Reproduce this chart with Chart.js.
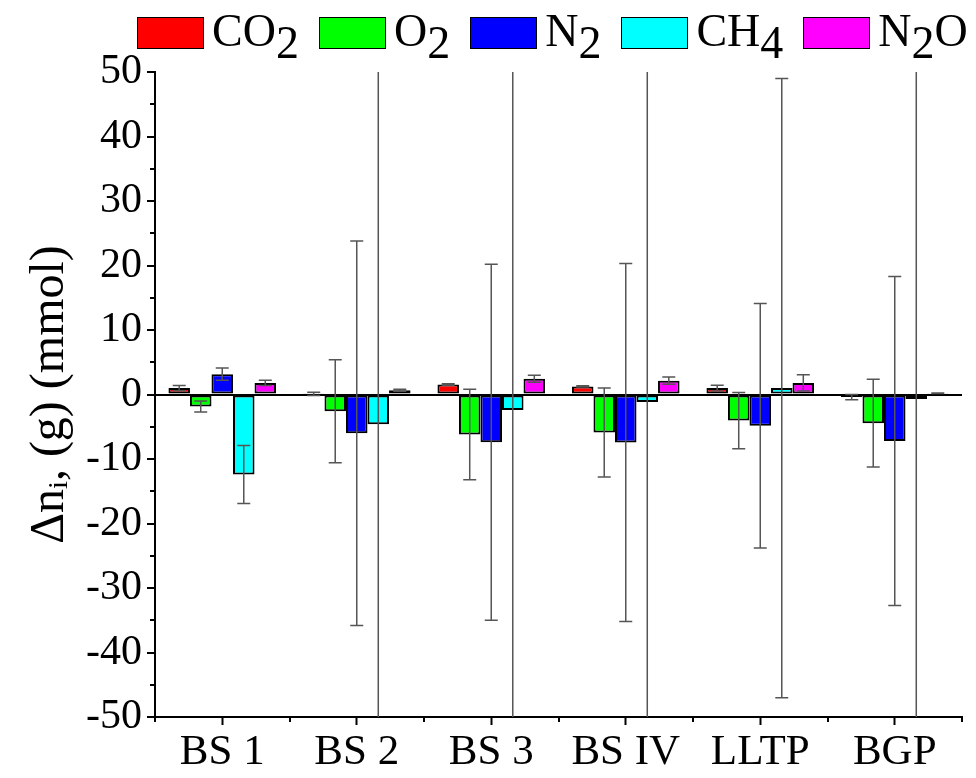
<!DOCTYPE html>
<html>
<head>
<meta charset="utf-8">
<script src="https://cdn.jsdelivr.net/npm/chart.js@4.4.0/dist/chart.umd.min.js"></script>
<style>
html,body{margin:0;padding:0;background:#fff;}
#wrap{position:relative;width:976px;height:778px;}
#legend{position:absolute;left:137px;top:8px;display:flex;align-items:flex-start;font-family:"Liberation Serif","Times New Roman",serif;font-size:46px;color:#000;line-height:1;white-space:nowrap;}
.item{display:flex;align-items:flex-start;margin-right:20px;}
.box{width:65px;height:30px;border:1.5px solid #000;margin-top:9px;margin-right:8px;}
.sub{position:relative;top:0.25em;}
</style>
</head>
<body>
<div id="wrap">
<canvas id="c" width="976" height="778"></canvas>
<div id="legend"></div>
</div>
<script>
// ---- data ----
const categories = ["BS 1", "BS 2", "BS 3", "BS IV", "LLTP", "BGP"];
const seriesNames = ["CO2", "O2", "N2", "CH4", "N2O"];

const co2    = [1.0, 0.1, 1.55, 1.25, 1.0, -0.4];
const co2Err = [0.4, 0.25, 0.1, 0.1, 0.45, 0.4];
const o2     = [-1.85, -2.6, -6.2, -5.9, -4.05, -4.45];
const o2Err  = [0.85, 8.0, 7.0, 6.9, 4.35, 6.8];
const n2     = [3.15, -6.0, -7.4, -7.45, -4.85, -7.2];
const n2Err  = [0.95, 29.8, 27.6, 27.75, 18.95, 25.5];
const ch4    = [-12.4, -4.6, -2.4, -1.15, 1.0, -0.7];
const ch4Err = [4.5, 75, 70, 72, 48.0, 68];
const n2o    = [1.8, 0.65, 2.45, 2.15, 1.8, 0.2];
const n2oErr = [0.4, 0.15, 0.55, 0.55, 1.25, 0.05];

const yMin = -50, yMax = 50, yStep = 10, yMinorStep = 5;
const yTitle = "Δnᵢ, (g) (mmol)";

// ---- styles ----
const colors = ["#ff0000", "#00ff00", "#0000ff", "#00ffff", "#ff00ff"];
const FONT = '"Liberation Serif", "Times New Roman", serif';

const values = [co2, o2, n2, ch4, n2o];
const errors = [co2Err, o2Err, n2Err, ch4Err, n2oErr];

const datasets = seriesNames.map((name, i) => ({
  label: name,
  data: values[i],
  errors: errors[i],
  backgroundColor: colors[i],
  borderColor: "#000",
  borderWidth: 2,
  borderSkipped: false,
  categoryPercentage: 0.8,
  barPercentage: 1.0
}));

const errorBarPlugin = {
  id: "errorBars",
  afterDatasetsDraw(chart) {
    const ctx = chart.ctx, y = chart.scales.y, a = chart.chartArea;
    ctx.save();
    ctx.beginPath();
    ctx.rect(a.left, a.top - 1, a.right - a.left, a.bottom - a.top + 2);
    ctx.clip();
    ctx.strokeStyle = "#555";
    ctx.lineWidth = 1.5;
    chart.data.datasets.forEach((ds, i) => {
      const meta = chart.getDatasetMeta(i);
      meta.data.forEach((bar, j) => {
        const v = ds.data[j], e = ds.errors[j];
        const yt = y.getPixelForValue(v + e);
        const yb = y.getPixelForValue(v - e);
        const x = bar.x;
        ctx.beginPath();
        ctx.moveTo(x, Math.max(yt, a.top));
        ctx.lineTo(x, Math.min(yb, a.bottom));
        if (yt >= a.top) { ctx.moveTo(x - 6.5, yt); ctx.lineTo(x + 6.5, yt); }
        if (yb <= a.bottom) { ctx.moveTo(x - 6.5, yb); ctx.lineTo(x + 6.5, yb); }
        ctx.stroke();
      });
    });
    ctx.restore();
  }
};

const minorTickPlugin = {
  id: "minorTicks",
  afterDraw(chart) {
    const ctx = chart.ctx, y = chart.scales.y, x = chart.scales.x, a = chart.chartArea;
    ctx.save();
    ctx.strokeStyle = "#000";
    ctx.lineWidth = 2;
    ctx.beginPath();
    for (let v = yMin + yMinorStep; v < yMax; v += yStep) {
      const py = Math.round(y.getPixelForValue(v));
      ctx.moveTo(a.left - 5, py);
      ctx.lineTo(a.left, py);
    }
    const p0 = x.getPixelForTick(0), p1 = x.getPixelForTick(1);
    const w = p1 - p0;
    for (let k = 0; k <= categories.length; k++) {
      const px = Math.round(p0 - w / 2 + k * w);
      ctx.moveTo(px, a.bottom);
      ctx.lineTo(px, a.bottom + 5);
    }
    ctx.stroke();
    ctx.restore();
  }
};

const chart = new Chart(document.getElementById("c"), {
  type: "bar",
  data: { labels: categories, datasets },
  options: {
    responsive: false,
    animation: false,
    layout: { padding: { top: 72, right: 14, left: 0, bottom: 0 } },
    plugins: { legend: { display: false }, tooltip: { enabled: false } },
    scales: {
      x: {
        offset: true,
        grid: { display: true, drawOnChartArea: false, drawTicks: true, tickLength: 8, tickColor: "#000", tickWidth: 2, offset: false },
        border: { display: true, color: "#000", width: 2 },
        ticks: { color: "#000", font: { family: FONT, size: 43 }, padding: 2, maxRotation: 0, autoSkip: false },
        afterFit(s) { s.height = 61; }
      },
      y: {
        min: yMin, max: yMax,
        grid: {
          display: true, drawOnChartArea: true, drawTicks: true, tickLength: 8, tickWidth: 2, tickColor: "#000",
          color: c => (c.tick && c.tick.value === 0) ? "#000" : "rgba(0,0,0,0)",
          lineWidth: c => (c.tick && c.tick.value === 0) ? 2 : 0
        },
        border: { display: true, color: "#000", width: 2 },
        ticks: { stepSize: yStep, color: "#000", font: { family: FONT, size: 42 }, padding: 5 },
        title: { display: true, text: yTitle, color: "#000", font: { family: FONT, size: 48 }, padding: { top: 22, bottom: 0 } },
        afterFit(s) { s.width = 155; }
      }
    }
  },
  plugins: [errorBarPlugin, minorTickPlugin]
});

// HTML legend built from the chart's datasets (subscripted digits)
const legend = document.getElementById("legend");
chart.data.datasets.forEach(ds => {
  const item = document.createElement("div");
  item.className = "item";
  const box = document.createElement("div");
  box.className = "box";
  box.style.background = ds.backgroundColor;
  const txt = document.createElement("div");
  txt.innerHTML = ds.label.replace(/(\d)/g, '<span class="sub">$1</span>');
  item.appendChild(box);
  item.appendChild(txt);
  legend.appendChild(item);
});
</script>
</body>
</html>
